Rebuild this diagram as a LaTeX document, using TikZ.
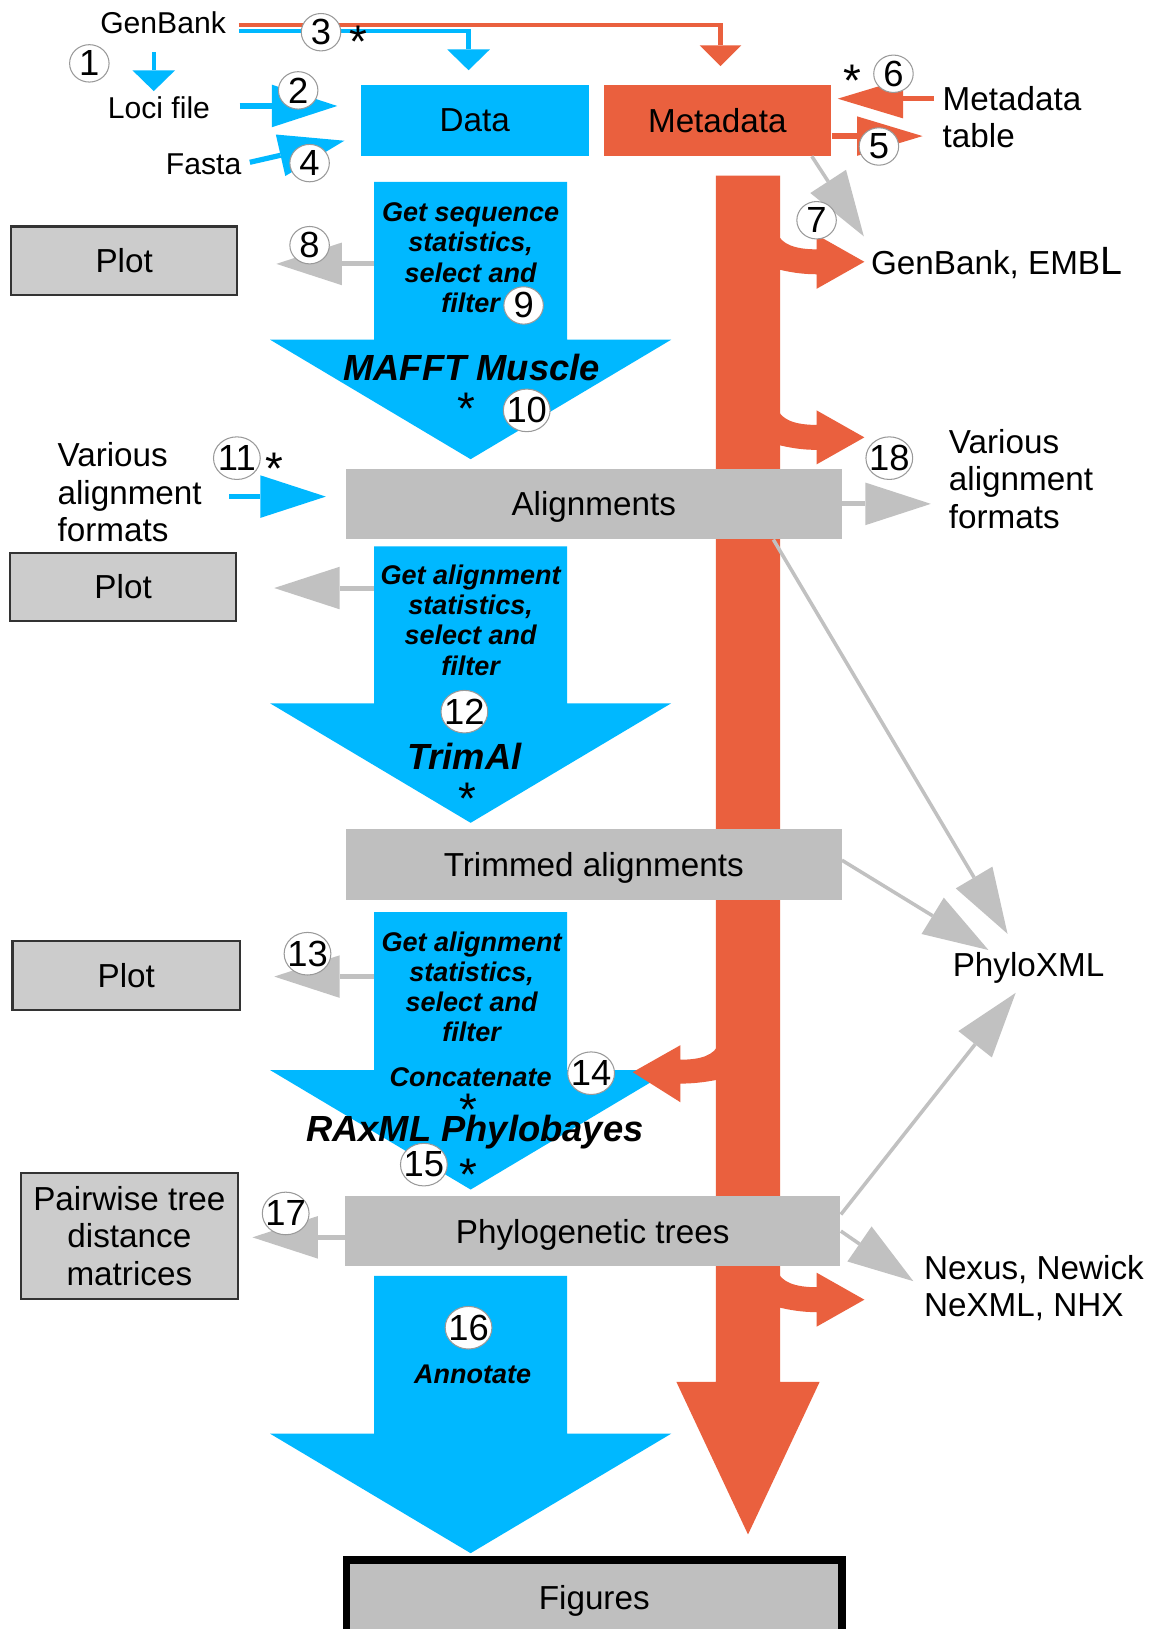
\documentclass[tikz,border=0pt]{standalone}
\usepackage{fontspec}
\setmainfont{Liberation Sans}
\usetikzlibrary{arrows.meta,shapes.geometric}
\usepackage{xcolor}
\definecolor{myblue}{RGB}{0,184,255}
\definecolor{myorange}{RGB}{234,96,62}
\definecolor{boxgray}{RGB}{191,191,191}
\definecolor{plotgray}{RGB}{204,204,204}
\definecolor{argray}{RGB}{193,193,193}
\newcommand{\lblfont}{\fontsize{16}{18}\selectfont}
\newcommand{\srcfont}{\fontsize{14.5}{17}\selectfont}
\newcommand{\stepfont}{\fontsize{13}{14.5}\selectfont\bfseries\itshape}
\newcommand{\toolfont}{\fontsize{17.5}{20}\selectfont\bfseries\itshape}
\newcommand{\numfont}{\fontsize{17.5}{20}\selectfont}
\newcommand{\astfont}{\fontsize{22}{24}\selectfont}

\begin{document}
\begin{tikzpicture}[x=0.5pt,y=-0.5pt,
  lbl/.style={inner sep=0pt, text depth=0pt, font=\lblfont},
  src/.style={lbl, font=\srcfont},
  mlbl/.style={inner sep=0pt, align=left, font=\lblfont},
  topbox/.style={minimum width=110pt, minimum height=34pt, inner sep=0pt, text depth=0pt, font=\lblfont},
  gbox/.style={fill=boxgray, minimum width=238.5pt, minimum height=34pt, inner sep=0pt, text depth=0pt, font=\lblfont},
  pbox/.style={draw=black!80, line width=1pt, fill=plotgray, minimum width=108.5pt, minimum height=33pt, inner sep=0pt, font=\lblfont},
  steptxt/.style={inner sep=0pt, align=center, font=\stepfont},
  tooltxt/.style={inner sep=0pt, text depth=0pt, font=\toolfont},
  num/.style={ellipse, draw=black!40, line width=0.5pt, fill=white, inner sep=0pt, minimum width=19pt, minimum height=18pt, label={[inner sep=0pt, font=\numfont]center:#1}},
  numw/.style={num=#1, minimum width=22.5pt, minimum height=20.5pt},
  ast/.style={inner sep=0pt, font=\astfont},
  bluesm/.style={draw=myblue, line width=2pt, -{Triangle[length=10pt,width=20.5pt,line width=0pt]}},
  bluebig/.style={draw=myblue, line width=2.5pt, -{Triangle[length=31.5pt,width=20.5pt,line width=0pt]}},
  orsm/.style={draw=myorange, line width=2pt, -{Triangle[length=10pt,width=20pt,line width=0pt]}},
  orbig/.style={draw=myorange, line width=2.5pt, -{Triangle[length=31.5pt,width=19pt,line width=0pt]}},
  grayarr/.style={draw=argray, line width=2.4pt, -{Triangle[length=31.5pt,width=20.5pt,line width=0pt]}},
  graythin/.style={grayarr, line width=1.7pt}]

  \useasboundingbox (0,0) rectangle (1109,1568);
  \fill[white] (0,0) rectangle (1109,1568);

  % big blue steps
  \foreach \t/\b in {175/327,526/677,878/1030,1228/1380}
    \fill[myblue] (360,\t) -- (546,\t) -- (546,\b) -- (646,\b) -- (453,\b+115) -- (260,\b) -- (360,\b) -- cycle;

  % metadata stream
  \fill[myorange] (689,169) -- (751,169) -- (751,1330) -- (789,1330) -- (720,1477) -- (651,1330) -- (689,1330) -- cycle;
  \foreach \y in {252,421,1251}
    \fill[myorange] (748,\y-28) .. controls (752,\y-17) and (765,\y-12) .. (786,\y-12) -- (786,\y-26) -- (832,\y)
      -- (786,\y+26) -- (786,\y+12) .. controls (772,\y+12) and (760,\y+10) .. (748,\y+7) -- cycle;
  \fill[myorange] (692,1004) .. controls (688,1016) and (674,1020) .. (655,1020) -- (655,1006) -- (609,1032)
      -- (655,1061) -- (655,1043) .. controls (670,1043) and (682,1041) .. (692,1039) -- cycle;

  \node[topbox, fill=myblue] (data) at (457,116) {Data};
  \node[topbox, fill=myorange, minimum width=109.5pt] (meta) at (690.5,116) {Metadata};

  \node[src] (genbank) at (157,22) {GenBank};
  \node[src] (loci) at (153,104) {Loci file};
  \node[src] (fasta) at (196,158) {Fasta};
  \node[mlbl, anchor=west] (mtable) at (907,113) {Metadata\\table};
  \node[lbl, anchor=west] (gbembl) at (838,251) {GenBank, EMB{\fontsize{19}{19}\selectfont L}};
  \node[mlbl, anchor=west] (vafr) at (913,461) {Various\\alignment\\formats};
  \node[mlbl, anchor=west] (vafl) at (55,474) {Various\\alignment\\formats};
  \node[lbl] (phyloxml) at (990,928) {PhyloXML};
  \node[mlbl, anchor=west] (nexus) at (889,1240) {Nexus, Newick\\NeXML, NHX};

  \node[pbox] (plot1) at (119.5,251) {Plot};
  \node[pbox] (plot2) at (118.5,565) {Plot};
  \node[pbox, minimum width=109.5pt] (plot3) at (121.5,939) {Plot};
  \node[pbox, minimum width=104.5pt, minimum height=60.5pt, align=center] (pairw) at (124.5,1189.5) {Pairwise tree\\distance\\matrices};

  \node[gbox] (align) at (571.5,485) {Alignments};
  \node[gbox] (trim) at (571.5,832) {Trimmed alignments};
  \node[gbox] (phylo) at (570.5,1185) {Phylogenetic trees};
  \node[gbox, draw=black, line width=3.5pt, minimum height=36pt] (figs) at (572,1537.5) {Figures};

  \node[steptxt] (t1) at (453,248) {Get sequence\\statistics,\\select and\\filter};
  \node[tooltxt] (mafft) at (454,354) {MAFFT Muscle};
  \node[steptxt] (t2) at (453,597) {Get alignment\\statistics,\\select and\\filter};
  \node[tooltxt] (trimal) at (447,728) {TrimAl};
  \node[steptxt] (t3) at (454,950) {Get alignment\\statistics,\\select and\\filter};
  \node[steptxt] (concat) at (453,1037) {Concatenate};
  \node[tooltxt] (raxml) at (457,1086) {RAxML Phylobayes};
  \node[steptxt] (annot) at (455,1323) {Annotate};

  % inputs
  \draw[orsm, shorten <=6pt, shorten >=9pt] ([yshift=-1pt]genbank.east) -| ([xshift=1.5pt]meta.north);
  \draw[bluesm, shorten <=6pt, shorten >=7pt] ([yshift=-4pt]genbank.east) -| ([xshift=-3pt]data.north);
  \draw[bluesm, shorten <=8.7pt, shorten >=2.7pt] ([xshift=-4.5pt]genbank.south) -- ([xshift=-2.5pt]loci.north);
  \draw[bluebig, shorten <=14pt, shorten >=11pt] ([yshift=1pt]loci.east) -- ([yshift=1pt]loci.east -| data.west);
  \draw[bluebig, shorten <=4pt, shorten >=7.75pt] (fasta.east) -- ([yshift=-8pt]data.west);
  \draw[orbig, shorten <=4pt, shorten >=3pt] ([yshift=9pt]mtable.west) -- ([yshift=9pt]mtable.west -| meta.east);
  \draw[orbig, shorten >=9.5pt] ([yshift=-7.5pt]meta.east) -- ([yshift=-9pt]mtable.west);
  \draw[bluebig, shorten <=13pt, shorten >=9.5pt] ([yshift=-2pt]vafl.east) -- ([yshift=-2pt]vafl.east -| align.west);

  % outputs
  \coordinate (s1) at (360,254);
  \coordinate (s2) at (360,566);
  \coordinate (s3) at (360,940);
  \draw[grayarr, shorten >=18.5pt] (s1) -- (s1 -| plot1.east);
  \draw[grayarr, shorten >=18pt] (s2) -- (s2 -| plot2.east);
  \draw[grayarr, shorten >=16pt] (s3) -- (s3 -| plot3.east);
  \draw[grayarr, shorten >=6.5pt] ([yshift=-3pt]phylo.west) -- ([yshift=-3pt]phylo.west -| pairw.east);
  \draw[graythin, shorten >=6pt] ([xshift=-9.5pt]meta.south east) -- (gbembl.north west);
  \draw[grayarr, shorten >=8.5pt] (align.east) -- (align.east -| vafr.west);
  \draw[graythin, shorten >=10pt] ([xshift=-33pt]align.south east) -- ([xshift=-5pt]phyloxml.north);
  \draw[graythin, shorten >=1.5pt] ([yshift=2pt]trim.east) -- ([xshift=-18pt]phyloxml.north);
  \draw[graythin, shorten >=10pt] ([yshift=8pt]phylo.east) -- (phyloxml.south);
  \draw[graythin, shorten >=6pt] (phylo.east) -- (nexus.west);

  \node[num=1] (n1) at (86,61) {};
  \node[num=2] (n2) at (287,87) {};
  \node[num=3] (n3) at (309,31) {};
  \node[num=4] (n4) at (298,157) {};
  \node[num=5] (n5) at (846,141) {};
  \node[num=6] (n6) at (860,71) {};
  \node[num=7] (n7) at (786,212) {};
  \node[num=8] (n8) at (298,236) {};
  \node[num=9] (n9) at (504,294) {};
  \node[numw=10] (n10) at (507,395) {};
  \node[numw=11] (n11) at (228,441) {};
  \node[numw=12] (n12) at (447,685) {};
  \node[numw=13] (n13) at (296,918) {};
  \node[numw=14] (n14) at (569,1033) {};
  \node[numw=15] (n15) at (408,1121) {};
  \node[numw=16] (n16) at (451,1278) {};
  \node[numw=17] (n17) at (275,1168) {};
  \node[numw=18] (n18) at (856,441) {};

  \node[ast] (st3) at (345,40) {*};
  \node[ast] (st6) at (820,78) {*};
  \node[ast] (st10) at (449,393) {*};
  \node[ast] (st11) at (264,451) {*};
  \node[ast] (st12) at (450,769) {*};
  \node[ast] (st14) at (451,1068) {*};
  \node[ast] (st15) at (451,1131) {*};
\end{tikzpicture}
\end{document}
